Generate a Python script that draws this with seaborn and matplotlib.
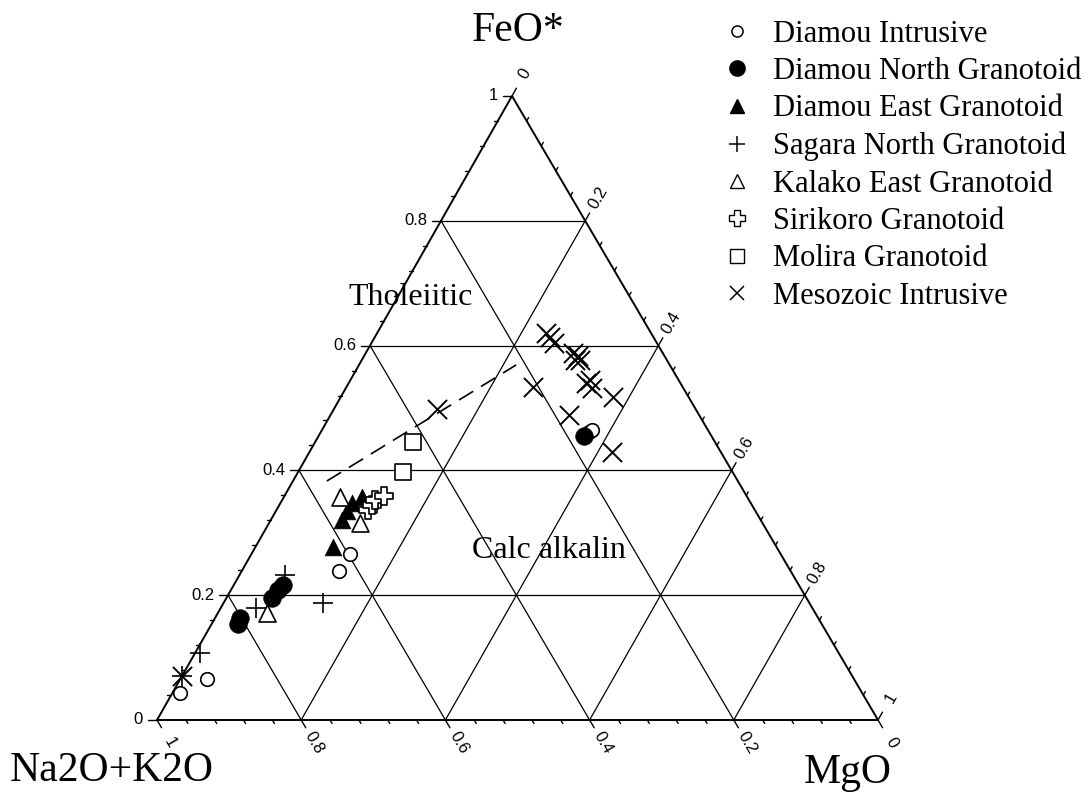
import numpy as np
import pandas as pd
import matplotlib
matplotlib.use('Agg')
import matplotlib.pyplot as plt
from matplotlib.lines import Line2D
import seaborn as sns

# ternary data: FeO* and MgO fractions (Na2O+K2O = 1 - FeO* - MgO)
groups = ['Diamou Intrusive', 'Diamou North Granotoid', 'Diamou East Granotoid',
          'Sagara North Granotoid', 'Kalako East Granotoid', 'Sirikoro Granotoid',
          'Molira Granotoid', 'Mesozoic Intrusive']

di_feo = [0.043, 0.066, 0.239, 0.266, 0.462, 0.465]
di_mgo = [0.011, 0.037, 0.135, 0.137, 0.371, 0.374]
dn_feo = [0.154, 0.163, 0.196, 0.208, 0.216, 0.455]
dn_mgo = [0.037, 0.035, 0.063, 0.065, 0.068, 0.368]
de_feo = [0.277, 0.321, 0.335, 0.348, 0.357]
de_mgo = [0.108, 0.099, 0.099, 0.099, 0.108]
sn_feo = [0.071, 0.107, 0.179, 0.232, 0.188]
sn_mgo = [0.000, 0.007, 0.049, 0.063, 0.138]
ke_feo = [0.171, 0.357, 0.316]
ke_mgo = [0.068, 0.078, 0.126]
si_feo = [0.337, 0.345, 0.353, 0.359]
si_mgo = [0.127, 0.129, 0.129, 0.138]
mo_feo = [0.446, 0.397]
mo_mgo = [0.136, 0.146]
me_feo = [0.071, 0.498, 0.620, 0.614, 0.604, 0.588, 0.583, 0.577, 0.577,
          0.545, 0.540, 0.532, 0.534, 0.518, 0.489, 0.429]
me_mgo = [0.000, 0.143, 0.234, 0.243, 0.253, 0.287, 0.297, 0.296, 0.303,
          0.332, 0.329, 0.341, 0.259, 0.378, 0.331, 0.420]

# tholeiitic / calc-alkaline boundary (dashed)
bound_feo = [0.383, 0.569]
bound_mgo = [0.047, 0.218]

grid_vals = [0.2, 0.4, 0.6, 0.8]
tick_labels = ['0', '0.2', '0.4', '0.6', '0.8', '1']

feo_all = [di_feo, dn_feo, de_feo, sn_feo, ke_feo, si_feo, mo_feo, me_feo]
mgo_all = [di_mgo, dn_mgo, de_mgo, sn_mgo, ke_mgo, si_mgo, mo_mgo, me_mgo]

# the scanned triangle is slightly sheared: top vertex sits at 355/721 of the base
S = 355 / 721
WX, WY = 721.0, 624.0  # pixels per unit


def tern(mgo, feo):
    mgo = np.asarray(mgo, dtype=float)
    feo = np.asarray(feo, dtype=float)
    return mgo + S * feo, feo


rows = []
for g, f, m in zip(groups, feo_all, mgo_all):
    for fi, mi in zip(f, m):
        rows.append({'group': g, 'FeO': fi, 'MgO': mi})
df = pd.DataFrame(rows)
df['X'], df['Y'] = tern(df['MgO'], df['FeO'])

styles = {
    'Diamou Intrusive':       dict(marker='o', s=95, color='white', edgecolor='black', linewidth=1.2),
    'Diamou North Granotoid': dict(marker='o', s=160, color='black', edgecolor='black', linewidth=0.5),
    'Diamou East Granotoid':  dict(marker='^', s=145, color='black', edgecolor='black', linewidth=0.5),
    'Sagara North Granotoid': dict(marker='+', s=200, color='black', linewidth=1.2),
    'Kalako East Granotoid':  dict(marker='^', s=150, color='white', edgecolor='black', linewidth=1.2),
    'Sirikoro Granotoid':     dict(marker='P', s=170, color='white', edgecolor='black', linewidth=1.2),
    'Molira Granotoid':       dict(marker='s', s=130, color='white', edgecolor='black', linewidth=1.2),
    'Mesozoic Intrusive':     dict(marker='x', s=190, color='black', linewidth=1.4),
}

sns.set_style('white')
plt.rcParams['text.color'] = 'black'
fig = plt.figure(figsize=(10.92, 7.99), dpi=100)
ax = fig.add_axes([0, 0, 1, 1])

serif = 'Liberation Serif'
sans = 'Liberation Sans'

# triangle frame
fx, fy = tern([0, 1, 0, 0], [0, 0, 1, 0])
ax.plot(fx, fy, color='black', lw=1.4, zorder=2, solid_joinstyle='miter')

# internal grid
for k in grid_vals:
    for m, f in [([0, 1 - k], [k, k]), ([k, k], [0, 1 - k]), ([1 - k, 0], [0, 1 - k])]:
        gx, gy = tern(m, f)
        ax.plot(gx, gy, color='black', lw=0.9, zorder=1)


def seg(x, y, dpx, dpy, length):
    # dpx, dpy: unit direction in image pixels (y pointing down)
    ax.plot([x, x + length * dpx / WX], [y, y - length * dpy / WY],
            color='black', lw=1.0, zorder=2)


left_dir = (-1.0, 0.0)
right_dir = (0.4946, -0.8692)
bot_dir = (0.507, 0.862)

for i in range(26):
    v = i * 0.04
    major = abs(v / 0.2 - round(v / 0.2)) < 1e-6
    L = 9 if major else 4
    x, y = tern(0, v)          # left edge: FeO*
    seg(x, y, *left_dir, L)
    x, y = tern(v, 1 - v)      # right edge: MgO
    seg(x, y, *right_dir, L)
    x, y = tern(1 - v, 0)      # bottom edge: Na2O+K2O
    seg(x, y, *bot_dir, L)

for j, lab in enumerate(tick_labels):
    v = j * 0.2
    x, y = tern(0, v)
    ax.annotate(lab, (x, y), xytext=(-14 * 0.72, 0), textcoords='offset points',
                ha='right', va='center', fontsize=12, family=sans, color='black')
    x, y = tern(v, 1 - v)
    ax.annotate(lab, (x, y), xytext=(26 * right_dir[0] * 0.72, -26 * right_dir[1] * 0.72),
                textcoords='offset points', ha='center', va='center', rotation=60,
                rotation_mode='anchor', fontsize=12, family=sans, color='black')
    x, y = tern(1 - v, 0)
    ax.annotate(lab, (x, y), xytext=(26 * bot_dir[0] * 0.72, -26 * bot_dir[1] * 0.72),
                textcoords='offset points', ha='center', va='center', rotation=-60,
                rotation_mode='anchor', fontsize=12, family=sans, color='black')

# boundary line
bx, by = tern(bound_mgo, bound_feo)
ax.plot(bx, by, color='black', lw=1.2, dashes=(10, 5.5), zorder=2)

# samples
for g in groups:
    sub = df[df['group'] == g]
    sns.scatterplot(data=sub, x='X', y='Y', ax=ax, zorder=3, legend=False, **styles[g])
ax.axis('off')
ax.set_xlim(-157 / WX, (1092 - 157) / WX)
ax.set_ylim(-(799 - 720) / WY, 720 / WY)


def px(xp, yp):
    return (xp - 157) / WX, (720 - yp) / WY


ax.text(*px(518, 31), 'FeO*', ha='center', va='center', fontsize=30, family=serif)
ax.text(*px(112, 771), 'Na2O+K2O', ha='center', va='center', fontsize=30, family=serif)
ax.text(*px(848, 773), 'MgO', ha='center', va='center', fontsize=30, family=serif)
ax.text(*px(411, 298), 'Tholeiitic', ha='center', va='center', fontsize=23, family=serif)
ax.text(*px(549, 550), 'Calc alkalin', ha='center', va='center', fontsize=23, family=serif)

# legend
leg_style = {
    'Diamou Intrusive':       dict(marker='o', ms=8, mfc='white', mec='black', mew=1.1),
    'Diamou North Granotoid': dict(marker='o', ms=11, mfc='black', mec='black'),
    'Diamou East Granotoid':  dict(marker='^', ms=10, mfc='black', mec='black'),
    'Sagara North Granotoid': dict(marker='+', ms=11, mec='black', mew=1.1),
    'Kalako East Granotoid':  dict(marker='^', ms=10, mfc='white', mec='black', mew=1.0),
    'Sirikoro Granotoid':     dict(marker='P', ms=11, mfc='white', mec='black', mew=1.0),
    'Molira Granotoid':       dict(marker='s', ms=10, mfc='white', mec='black', mew=1.0),
    'Mesozoic Intrusive':     dict(marker='x', ms=10, mec='black', mew=1.1),
}
handles = [Line2D([], [], linestyle='none', **leg_style[g]) for g in groups]
leg = fig.legend(handles, groups, loc='upper left', bbox_to_anchor=(721.7 / 1092, 1 - 19.5 / 799),
                 frameon=False, borderpad=0, borderaxespad=0, handlelength=1.0,
                 handletextpad=0.68, labelspacing=0.275, prop={'family': serif, 'size': 22})
for t in leg.get_texts():
    t.set_color('black')

fig.savefig('out.png', dpi=100)
